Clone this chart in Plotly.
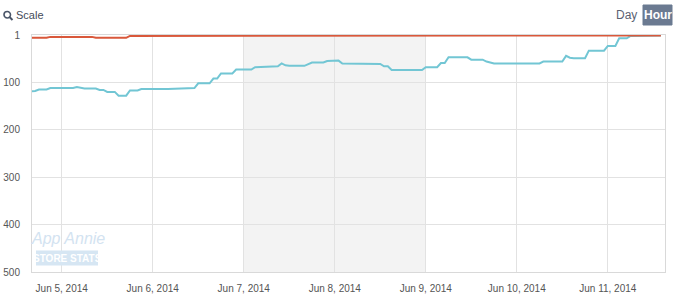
import plotly.graph_objects as go

# ---- data ----
teal_times = [
    "2014-06-04 16:00", "2014-06-04 17:00", "2014-06-04 18:00", "2014-06-04 20:00", "2014-06-04 21:00",
    "2014-06-05 03:00", "2014-06-05 04:00", "2014-06-05 05:00", "2014-06-05 06:00", "2014-06-05 09:00",
    "2014-06-05 10:00", "2014-06-05 11:00", "2014-06-05 12:00", "2014-06-05 14:00", "2014-06-05 15:00",
    "2014-06-05 17:00", "2014-06-05 18:00", "2014-06-05 20:00", "2014-06-05 21:00", "2014-06-06 04:00",
    "2014-06-06 06:00", "2014-06-06 11:00", "2014-06-06 12:00", "2014-06-06 15:00", "2014-06-06 16:00",
    "2014-06-06 17:00", "2014-06-06 18:00", "2014-06-06 21:00", "2014-06-06 22:00", "2014-06-07 02:00",
    "2014-06-07 03:00", "2014-06-07 07:00", "2014-06-07 08:00", "2014-06-07 09:00", "2014-06-07 10:00",
    "2014-06-07 11:00", "2014-06-07 12:00", "2014-06-07 16:00", "2014-06-07 18:00", "2014-06-07 21:00",
    "2014-06-07 22:00", "2014-06-08 01:00", "2014-06-08 02:00", "2014-06-08 06:00", "2014-06-08 07:00",
    "2014-06-08 12:00", "2014-06-08 13:00", "2014-06-08 14:00", "2014-06-08 15:00", "2014-06-08 23:00",
    "2014-06-09 00:00", "2014-06-09 03:00", "2014-06-09 04:00", "2014-06-09 05:00", "2014-06-09 06:00",
    "2014-06-09 11:00", "2014-06-09 12:00", "2014-06-09 15:00", "2014-06-09 16:00", "2014-06-09 18:00",
    "2014-06-10 00:00", "2014-06-10 04:00", "2014-06-10 06:00", "2014-06-10 07:00", "2014-06-10 12:00",
    "2014-06-10 13:00", "2014-06-10 14:00", "2014-06-10 15:00", "2014-06-10 18:00", "2014-06-10 19:00",
    "2014-06-10 23:00", "2014-06-11 00:00", "2014-06-11 02:00", "2014-06-11 03:00", "2014-06-11 05:00",
    "2014-06-11 06:00", "2014-06-11 13:00", "2014-06-11 14:00",
]
teal_ranks = [
    119, 118, 115, 115, 112,
    112, 110, 111, 113, 113,
    116, 116, 120, 120, 128,
    128, 117, 117, 114, 114,
    113, 112, 102, 102, 92,
    92, 81, 81, 73, 73,
    68, 67, 66, 66, 60,
    64, 65, 65, 58, 58,
    55, 54, 60, 60, 61,
    61, 66, 66, 74, 74,
    68, 68, 59, 59, 47,
    47, 52, 52, 56, 60,
    60, 59, 60, 56, 56,
    44, 48, 49, 49, 33,
    33, 23, 23, 7, 7,
    2, 1, 1,
]

red_times = [
    "2014-06-04 16:00", "2014-06-04 20:00", "2014-06-04 21:00", "2014-06-05 08:00", "2014-06-05 09:00",
    "2014-06-05 17:00", "2014-06-05 18:00", "2014-06-06 17:00", "2014-06-06 21:00", "2014-06-10 05:00",
    "2014-06-10 06:00", "2014-06-11 02:00", "2014-06-11 03:00", "2014-06-11 14:00",
]
red_ranks = [6, 6, 4, 4, 6, 6, 2, 2, 1, 1, 2, 2, 1, 1]

tick_dates = ["2014-06-05", "2014-06-06", "2014-06-07", "2014-06-08", "2014-06-09", "2014-06-10", "2014-06-11"]
tick_labels = ["Jun 5, 2014", "Jun 6, 2014", "Jun 7, 2014", "Jun 8, 2014", "Jun 9, 2014", "Jun 10, 2014", "Jun 11, 2014"]
y_ticks = [1, 100, 200, 300, 400, 500]
weekend = ["2014-06-07", "2014-06-09"]

# ---- figure ----
FONT = "Liberation Sans, Arial, sans-serif"
L, R, T, B = 32, 14, 35, 25
W, H = 679, 297
PW, PH = W - L - R, H - T - B


def px(x):
    return (x - L) / PW


def py(y):
    return (H - B - y) / PH


fig = go.Figure()
fig.add_trace(go.Scatter(x=teal_times, y=teal_ranks, mode="lines",
                         line=dict(color="#72c6d4", width=2), hoverinfo="skip"))
fig.add_trace(go.Scatter(x=red_times, y=red_ranks, mode="lines",
                         line=dict(color="#d9583b", width=2), hoverinfo="skip"))

shapes = [
    dict(type="rect", xref="x", yref="paper", x0=weekend[0], x1=weekend[1], y0=0, y1=1,
         fillcolor="#f3f3f3", line=dict(width=0), layer="below"),
    # watermark box
    dict(type="rect", xref="paper", yref="paper", x0=px(36), x1=px(98), y0=py(265.5), y1=py(250.5),
         fillcolor="#d6e6f3", line=dict(width=0), layer="above"),
    # magnifier icon
    dict(type="circle", xref="paper", yref="paper", x0=px(4), x1=px(10.5), y0=py(18), y1=py(11.5),
         line=dict(color="#4a5568", width=1.6)),
    dict(type="line", xref="paper", yref="paper", x0=px(9.5), x1=px(12.5), y0=py(17), y1=py(20),
         line=dict(color="#4a5568", width=2)),
    # Hour button
    dict(type="rect", xref="paper", yref="paper", x0=px(643), x1=px(672), y0=py(25), y1=py(5),
         fillcolor="#6b7a91", line=dict(color="#6b7a91", width=1)),
]

annotations = [
    dict(text="Scale", xref="paper", yref="paper", x=px(14), y=py(15), xanchor="left", yanchor="middle",
         showarrow=False, font=dict(family=FONT, size=11, color="#444c5a")),
    dict(text="Day", xref="paper", yref="paper", x=px(626), y=py(15), xanchor="center", yanchor="middle",
         showarrow=False, font=dict(family=FONT, size=12, color="#5b6272")),
    dict(text="<b>Hour</b>", xref="paper", yref="paper", x=px(657.5), y=py(15), xanchor="center",
         yanchor="middle", showarrow=False, font=dict(family=FONT, size=12, color="#ffffff")),
    dict(text="<i>App Annie</i>", xref="paper", yref="paper", x=px(67.5), y=py(238.5), xanchor="center",
         yanchor="middle", showarrow=False,
         font=dict(family=FONT, size=16, color="#d3e3f1")),
    dict(text="<b>STORE STATS</b>", xref="paper", yref="paper", x=px(67), y=py(258), xanchor="center",
         yanchor="middle", showarrow=False,
         font=dict(family=FONT, size=10, color="#ffffff")),
]

fig.update_layout(
    width=W, height=H,
    margin=dict(l=L, r=R, t=T, b=B),
    paper_bgcolor="white", plot_bgcolor="white",
    showlegend=False,
    shapes=shapes, annotations=annotations,
    xaxis=dict(range=["2014-06-04 16:10", "2014-06-11 15:05"], tickvals=tick_dates, ticktext=tick_labels,
               showgrid=True, gridcolor="#e2e2e2", gridwidth=1, zeroline=False, automargin=False,
               showline=True, mirror=True, linecolor="#d9d9d9", linewidth=1,
               tickfont=dict(family=FONT, size=10, color="#555555"), ticks="", ticklabelstandoff=7),
    yaxis=dict(range=[500, 0], tickvals=y_ticks, ticktext=[str(v) for v in y_ticks],
               showgrid=True, gridcolor="#e2e2e2", gridwidth=1, zeroline=False, automargin=False,
               showline=True, mirror=True, linecolor="#d9d9d9", linewidth=1,
               tickfont=dict(family=FONT, size=10, color="#555555"), ticks="", ticklabelstandoff=9),
)

fig.write_html("out.html")
